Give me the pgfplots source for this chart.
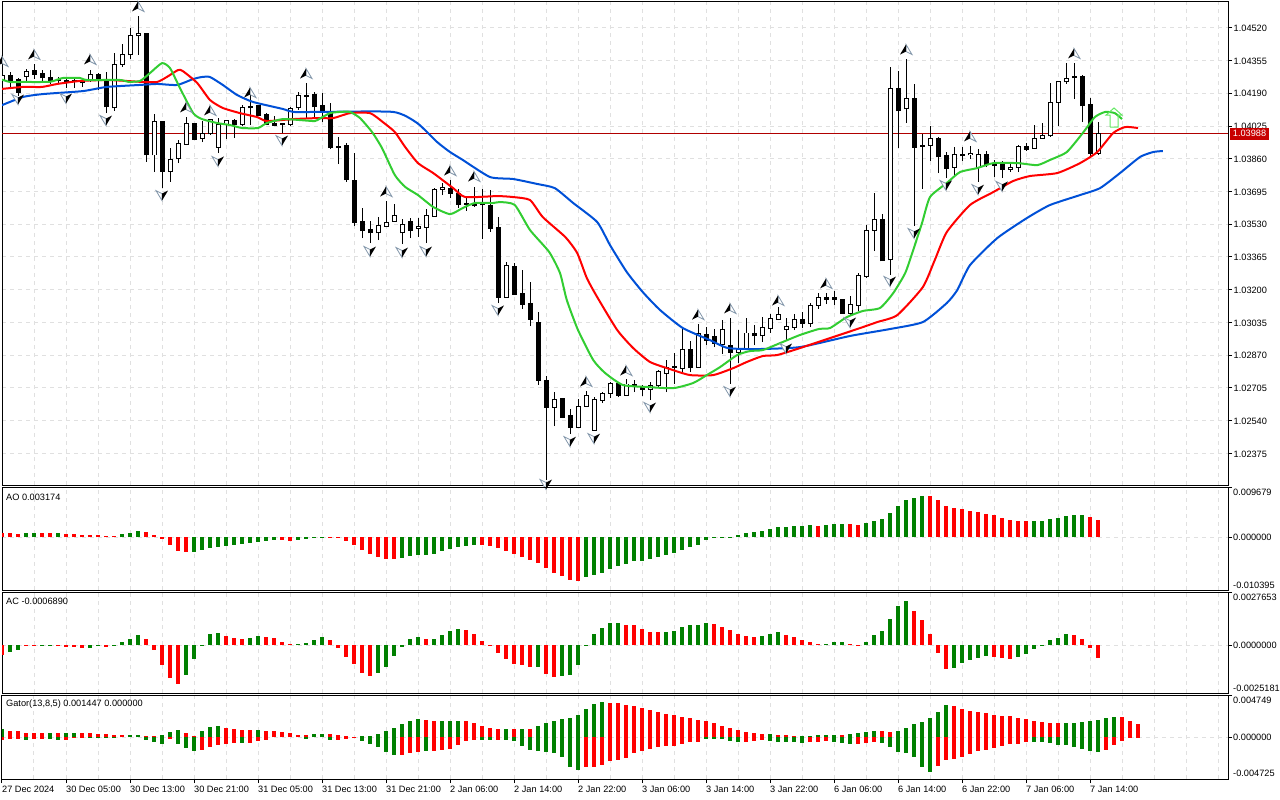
\documentclass[border=0pt]{standalone}
\usepackage{pgfplots}
\usepackage{pgfplotstable}
\pgfplotsset{compat=1.18}
\usepackage{fontspec}
\setmainfont{Liberation Sans}
\newcommand\lab{\fontsize{9.2}{11}\selectfont}
\definecolor{gLine}{RGB}{50,205,50}
\definecolor{bLine}{RGB}{0,80,215}
\definecolor{pLine}{RGB}{176,0,0}
\definecolor{pBox}{RGB}{200,0,0}
\definecolor{gBar}{RGB}{0,128,0}
\definecolor{rBar}{RGB}{255,0,0}
\definecolor{gridc}{RGB}{224,224,224}
\definecolor{fEdge}{RGB}{130,150,170}
\pgfdeclareplotmark{fup}{%
  \pgfsetlinewidth{0.8pt}\pgfsetstrokecolor{fEdge}\pgfsetfillcolor{white}%
  \pgfpathmoveto{\pgfqpoint{0pt}{5.5pt}}\pgfpathlineto{\pgfqpoint{6pt}{-4.5pt}}\pgfpathlineto{\pgfqpoint{0pt}{-1.5pt}}\pgfpathclose\pgfusepathqfillstroke
  \pgfsetfillcolor{black}%
  \pgfpathmoveto{\pgfqpoint{0pt}{5.5pt}}\pgfpathlineto{\pgfqpoint{-6pt}{-4.5pt}}\pgfpathlineto{\pgfqpoint{0pt}{-1.5pt}}\pgfpathclose\pgfusepathqfill
}
\pgfdeclareplotmark{fdown}{%
  \pgfsetlinewidth{0.8pt}\pgfsetstrokecolor{fEdge}\pgfsetfillcolor{white}%
  \pgfpathmoveto{\pgfqpoint{0pt}{-5.5pt}}\pgfpathlineto{\pgfqpoint{-6pt}{4.5pt}}\pgfpathlineto{\pgfqpoint{0pt}{1.5pt}}\pgfpathclose\pgfusepathqfillstroke
  \pgfsetfillcolor{black}%
  \pgfpathmoveto{\pgfqpoint{0pt}{-5.5pt}}\pgfpathlineto{\pgfqpoint{6pt}{4.5pt}}\pgfpathlineto{\pgfqpoint{0pt}{1.5pt}}\pgfpathclose\pgfusepathqfill
}
\pgfplotstableread{
k o h l c
0 1.04257 1.04297 1.04237 1.04282
3 1.04277 1.04312 1.04252 1.04302
11 1.04257 1.04307 1.04247 1.04287
14 1.04116 1.04393 1.04101 1.04337
15 1.04337 1.04438 1.04322 1.04383
16 1.04383 1.04519 1.04363 1.04479
17 1.04479 1.04579 1.04383 1.04489
19 1.03879 1.04085 1.03793 1.04050
21 1.03798 1.03914 1.03743 1.03854
22 1.03859 1.03954 1.03838 1.03939
23 1.03934 1.04070 1.03929 1.04040
25 1.03964 1.04050 1.03944 1.03985
26 1.03985 1.04060 1.03980 1.04060
27 1.03919 1.04065 1.03889 1.04035
28 1.04035 1.04055 1.03959 1.04055
30 1.04035 1.04131 1.04025 1.04116
36 1.04035 1.04121 1.04025 1.04111
37 1.04116 1.04196 1.04106 1.04181
47 1.03486 1.03566 1.03450 1.03526
48 1.03521 1.03647 1.03516 1.03541
49 1.03546 1.03632 1.03546 1.03576
50 1.03486 1.03556 1.03430 1.03531
52 1.03511 1.03561 1.03466 1.03521
53 1.03516 1.03607 1.03435 1.03576
54 1.03571 1.03712 1.03571 1.03707
55 1.03707 1.03738 1.03677 1.03717
63 1.03163 1.03340 1.03163 1.03324
69 1.02609 1.02684 1.02513 1.02649
72 1.02508 1.02649 1.02508 1.02614
73 1.02614 1.02689 1.02609 1.02669
74 1.02493 1.02659 1.02493 1.02649
75 1.02644 1.02684 1.02629 1.02679
76 1.02679 1.02735 1.02654 1.02730
78 1.02669 1.02750 1.02669 1.02725
81 1.02699 1.02735 1.02644 1.02715
82 1.02715 1.02795 1.02710 1.02790
83 1.02780 1.02846 1.02684 1.02810
85 1.02805 1.03002 1.02785 1.02901
87 1.02810 1.03027 1.02810 1.02977
90 1.02926 1.03047 1.02876 1.03002
92 1.02886 1.02997 1.02830 1.02901
93 1.02901 1.03057 1.02896 1.02982
95 1.02967 1.03062 1.02936 1.03012
96 1.03007 1.03077 1.02982 1.03057
97 1.03052 1.03113 1.03047 1.03077
98 1.03002 1.03057 1.02946 1.03017
99 1.03012 1.03077 1.02997 1.03052
101 1.03032 1.03133 1.03012 1.03123
102 1.03123 1.03183 1.03103 1.03163
106 1.03082 1.03168 1.03072 1.03128
107 1.03123 1.03284 1.03093 1.03274
108 1.03269 1.03526 1.03259 1.03501
109 1.03501 1.03687 1.03395 1.03556
111 1.03350 1.04322 1.03274 1.04216
113 1.04111 1.04363 1.04040 1.04166
116 1.03929 1.04025 1.03849 1.03964
119 1.03818 1.03919 1.03778 1.03884
121 1.03879 1.03924 1.03859 1.03889
122 1.03818 1.03909 1.03743 1.03884
126 1.03808 1.03844 1.03793 1.03818
127 1.03818 1.03929 1.03793 1.03924
129 1.03914 1.04030 1.03909 1.03964
130 1.03964 1.04040 1.03964 1.03975
131 1.03975 1.04242 1.03970 1.04146
132 1.04146 1.04247 1.04025 1.04247
133 1.04247 1.04342 1.04237 1.04267
137 1.03889 1.04045 1.03879 1.03988
}\upcandles
\pgfplotstableread{
k o h l c
1 1.04282 1.04297 1.04216 1.04252
2 1.04257 1.04267 1.04176 1.04196
4 1.04307 1.04337 1.04262 1.04287
5 1.04292 1.04307 1.04252 1.04267
6 1.04272 1.04307 1.04237 1.04252
7 1.04257 1.04272 1.04237 1.04252
8 1.04252 1.04267 1.04216 1.04242
9 1.04252 1.04262 1.04216 1.04247
10 1.04252 1.04257 1.04222 1.04242
12 1.04287 1.04292 1.04206 1.04262
13 1.04257 1.04297 1.04090 1.04121
18 1.04489 1.04489 1.03844 1.03879
20 1.04050 1.04050 1.03712 1.03798
24 1.04040 1.04040 1.03954 1.03959
29 1.04055 1.04060 1.03964 1.04035
31 1.04121 1.04191 1.04030 1.04116
32 1.04126 1.04131 1.04080 1.04080
33 1.04085 1.04090 1.04030 1.04035
34 1.04040 1.04075 1.04025 1.04030
35 1.04040 1.04040 1.03990 1.04035
38 1.04181 1.04242 1.04065 1.04176
39 1.04186 1.04196 1.04065 1.04121
40 1.04126 1.04191 1.04045 1.04096
41 1.04096 1.04141 1.03909 1.03919
42 1.03924 1.03970 1.03833 1.03919
43 1.03929 1.03939 1.03743 1.03753
44 1.03753 1.03889 1.03521 1.03541
45 1.03546 1.03612 1.03460 1.03496
46 1.03506 1.03546 1.03435 1.03486
51 1.03546 1.03561 1.03460 1.03501
56 1.03712 1.03753 1.03662 1.03687
57 1.03687 1.03707 1.03612 1.03632
58 1.03637 1.03662 1.03597 1.03632
59 1.03632 1.03717 1.03617 1.03622
60 1.03632 1.03707 1.03455 1.03627
61 1.03627 1.03702 1.03491 1.03511
62 1.03516 1.03566 1.03133 1.03163
64 1.03319 1.03334 1.03178 1.03178
65 1.03183 1.03299 1.03103 1.03128
66 1.03133 1.03239 1.03017 1.03052
67 1.03037 1.03088 1.02720 1.02745
68 1.02745 1.02765 1.02241 1.02609
70 1.02654 1.02654 1.02553 1.02558
71 1.02568 1.02599 1.02473 1.02508
77 1.02730 1.02735 1.02659 1.02669
79 1.02720 1.02745 1.02684 1.02715
80 1.02710 1.02720 1.02664 1.02699
84 1.02815 1.02881 1.02725 1.02810
86 1.02901 1.02941 1.02785 1.02810
88 1.02972 1.03012 1.02921 1.02946
89 1.02962 1.03002 1.02911 1.02931
91 1.02921 1.03057 1.02725 1.02886
94 1.02982 1.03022 1.02921 1.02967
100 1.03052 1.03088 1.03007 1.03032
103 1.03163 1.03183 1.03128 1.03153
104 1.03163 1.03193 1.03123 1.03153
105 1.03153 1.03153 1.03082 1.03082
110 1.03556 1.03581 1.03345 1.03345
112 1.04216 1.04302 1.03914 1.04101
114 1.04166 1.04237 1.03521 1.03919
115 1.03929 1.03985 1.03707 1.03924
117 1.03964 1.03970 1.03788 1.03869
118 1.03874 1.03894 1.03763 1.03813
120 1.03884 1.03919 1.03849 1.03874
123 1.03884 1.03899 1.03818 1.03833
124 1.03838 1.03854 1.03768 1.03828
125 1.03833 1.03849 1.03763 1.03808
128 1.03924 1.03939 1.03899 1.03909
134 1.04277 1.04342 1.04161 1.04267
135 1.04277 1.04282 1.04045 1.04126
136 1.04131 1.04166 1.03864 1.03889
}\downcandles
\newcommand\comb[2]{\addplot[ycomb, no markers, line width=4pt, color=#1] coordinates {#2};}
\pgfplotsset{
  base/.style={scale only axis, width=1226pt, xmin=0, xmax=153.25, anchor=north west,
    axis line style={black,line width=1pt}, clip=true,
    scaled y ticks=false,
    tick label style={font=\lab},
    xtick={0,8,...,136}, minor xtick={4,12,...,132,140,144,148,152},
    xmajorgrids, xminorgrids, ymajorgrids,
    major grid style={gridc,line width=1pt,dash pattern=on 4pt off 4pt},
    minor grid style={gridc,line width=1pt,dash pattern=on 4pt off 4pt},
    xtick pos=bottom, ytick pos=right, tick align=outside,
    major tick length=4pt, minor tick length=0pt,
    y tick style={black,line width=1pt},
    /pgf/number format/assume math mode=true},
  nox/.style={xticklabels={}, x tick style={draw=none}},
  sub/.style={base, nox, ytick={0}, yticklabels={},
    extra y tick labels={}, extra y tick style={grid=none}},
}
\begin{document}
\begin{tikzpicture}
\path[use as bounding box] (0pt,0pt) rectangle (1280pt,-800pt);
% ---------- main price panel ----------
\begin{axis}[base, nox, at={(2pt,-2pt)}, height=483pt, ymin=1.02216, ymax=1.04650,
  ytick={1.02375,1.02540,1.02705,1.02870,1.03035,1.03200,1.03365,1.03530,1.03695,1.03860,1.04025,1.04190,1.04355,1.04520},
  yticklabels={1.02375,1.02540,1.02705,1.02870,1.03035,1.03200,1.03365,1.03530,1.03695,1.03860,1.04025,1.04190,1.04355,1.04520},
  yticklabel style={anchor=west,inner sep=0pt,xshift=1.5pt,yshift=-0.5pt}]
% current price
\addplot[color=pLine,line width=1pt] coordinates {(0,1.03988)(153.25,1.03988)};
% wicks
\addplot[draw=none,mark=none,error bars/.cd,y dir=plus,y explicit,error mark=none,error bar style={line width=1pt,black}]
  table[x=k,y=l,y error plus expr=\thisrow{h}-\thisrow{l}] {\upcandles};
\addplot[draw=none,mark=none,error bars/.cd,y dir=plus,y explicit,error mark=none,error bar style={line width=1pt,black}]
  table[x=k,y=l,y error plus expr=\thisrow{h}-\thisrow{l}] {\downcandles};
% bodies
\addplot[draw=none,mark=none,error bars/.cd,y dir=plus,y explicit,error mark=none,error bar style={line width=5pt,black}]
  table[x=k,y expr=\thisrow{o}-0.000025,y error plus expr=\thisrow{c}-\thisrow{o}+0.00005] {\upcandles};
\addplot[draw=none,mark=none,error bars/.cd,y dir=plus,y explicit,error mark=none,error bar style={line width=5pt,black}]
  table[x=k,y expr=\thisrow{c}-0.000025,y error plus expr=\thisrow{o}-\thisrow{c}+0.00005] {\downcandles};
\addplot[draw=none,mark=none,error bars/.cd,y dir=plus,y explicit,error mark=none,error bar style={line width=3pt,white}]
  table[x=k,y expr=\thisrow{o}+0.000025,y error plus expr=\thisrow{c}-\thisrow{o}-0.00005] {\upcandles};
% fractals
\addplot[only marks,mark=fup] coordinates {(0,1.04348)(4,1.04383)(11,1.04358)(17,1.04625)(23,1.04116)(26,1.04101)(31,1.04191)(38,1.04287)(48,1.03692)(56,1.03798)(59,1.03768)(73,1.02735)(78,1.02790)(87,1.03072)(91,1.03103)(97,1.03143)(103,1.03229)(113,1.04408)(121,1.03970)(134,1.04388)};
\addplot[only marks,mark=fdown] coordinates {(2,1.04161)(8,1.04166)(13,1.04055)(20,1.03677)(27,1.03849)(35,1.03954)(46,1.03395)(50,1.03390)(53,1.03395)(62,1.03098)(68,1.02221)(71,1.02437)(74,1.02452)(81,1.02609)(91,1.02689)(98,1.02906)(106,1.03037)(111,1.03244)(114,1.03486)(118,1.03728)(122,1.03707)(125,1.03723)};
% blue
\addplot[color=bLine,line width=2pt,no markers,smooth,tension=0.35] coordinates {(-0.25,1.04126)(2.6,1.04171)(5.1,1.04186)(10.1,1.04201)(13.1,1.04222)(17.25,1.04232)(19.4,1.04237)(21.9,1.04232)(23.9,1.04262)(25,1.04272)(26,1.04272)(27.6,1.04232)(29.4,1.04181)(31.4,1.04146)(35.1,1.04111)(36.4,1.04096)(39.75,1.04096)(48.9,1.04096)(51.9,1.04040)(54.4,1.03944)(56,1.03894)(57.6,1.03854)(61,1.03768)(63.9,1.03758)(66.9,1.03733)(69.1,1.03712)(71.4,1.03637)(74.4,1.03541)(76,1.03425)(78.1,1.03289)(80.1,1.03188)(82.25,1.03098)(85.1,1.03007)(88.5,1.02946)(90.75,1.02906)(94.4,1.02901)(99.75,1.02911)(106,1.02967)(111,1.03002)(115.1,1.03037)(118.1,1.03133)(119.4,1.03198)(121,1.03324)(124.4,1.03460)(128.1,1.03561)(131,1.03627)(134.75,1.03677)(137.25,1.03712)(139.75,1.03788)(142.25,1.03869)(143.9,1.03894)(145.1,1.03899)};
% red
\addplot[color=rBar,line width=2pt,no markers,smooth,tension=0.35] coordinates {(-0.25,1.04211)(2.6,1.04222)(5,1.04222)(6.9,1.04237)(9.75,1.04252)(13.1,1.04257)(15.6,1.04252)(17.6,1.04247)(19.4,1.04247)(20.6,1.04272)(22,1.04307)(22.6,1.04302)(24.4,1.04242)(26,1.04156)(27.6,1.04116)(29.75,1.04090)(31.9,1.04070)(33.1,1.04050)(36.4,1.04060)(39.4,1.04065)(41.4,1.04065)(43.5,1.04090)(46,1.04090)(47.6,1.04045)(49.1,1.03995)(50.4,1.03919)(52,1.03838)(53.9,1.03788)(56.4,1.03712)(57.9,1.03667)(61.9,1.03672)(63.9,1.03667)(66,1.03652)(67.6,1.03566)(70.4,1.03466)(71.9,1.03385)(73.1,1.03259)(74.4,1.03163)(76.9,1.02997)(78.9,1.02906)(81,1.02836)(83.5,1.02800)(86,1.02770)(88.9,1.02770)(91.4,1.02805)(93.1,1.02836)(95.1,1.02866)(96.9,1.02871)(99.75,1.02906)(106.9,1.03002)(109.4,1.03037)(111.9,1.03072)(115.1,1.03213)(116.6,1.03350)(118.1,1.03491)(121,1.03627)(123.9,1.03692)(126.4,1.03748)(128.5,1.03773)(131.9,1.03788)(134.75,1.03838)(136.9,1.03894)(138.9,1.03990)(140.4,1.04020)(142,1.04015)};
% green
\addplot[color=gLine,line width=2pt,no markers,smooth,tension=0.35] coordinates {(-0.25,1.04262)(1,1.04247)(2.6,1.04247)(6,1.04248)(7.6,1.04267)(9.75,1.04267)(10.6,1.04257)(14.75,1.04257)(15.75,1.04248)(17.25,1.04252)(18.5,1.04292)(20,1.04342)(21,1.04317)(22.25,1.04216)(23.9,1.04090)(25,1.04060)(26.9,1.04040)(28.5,1.04030)(30,1.04015)(32,1.04015)(33.1,1.04040)(35.1,1.04060)(37.25,1.04055)(39.1,1.04050)(39.75,1.04063)(41,1.04090)(42.25,1.04096)(43.5,1.04096)(44.75,1.04065)(46.25,1.03995)(47.5,1.03914)(49.1,1.03778)(50.4,1.03718)(52,1.03677)(53.9,1.03617)(56,1.03581)(57.6,1.03612)(59.1,1.03637)(61.4,1.03637)(62.25,1.03642)(64.1,1.03627)(66,1.03501)(68.4,1.03390)(69.75,1.03284)(70.6,1.03148)(72,1.02997)(73.9,1.02846)(75.4,1.02780)(77.6,1.02720)(80.6,1.02710)(83.9,1.02704)(86.4,1.02730)(88.1,1.02770)(89.75,1.02810)(91.9,1.02871)(93.5,1.02891)(95.1,1.02896)(97.25,1.02931)(99.75,1.02972)(102.1,1.03002)(103.5,1.03007)(105.6,1.03062)(107.6,1.03093)(109.75,1.03108)(111.4,1.03183)(112.9,1.03284)(113.9,1.03400)(115,1.03536)(116,1.03667)(118.1,1.03738)(119.75,1.03793)(121.9,1.03813)(123.9,1.03838)(127,1.03838)(129.4,1.03828)(131,1.03854)(133.1,1.03894)(135.1,1.03990)(136.6,1.04070)(137.9,1.04096)(139.1,1.04090)(140,1.04060)};
% arrow object
\addplot[color=green!35!gLine!70!white,line width=1pt] coordinates {(138.5,1.04020)(138.5,1.04080)(138,1.04080)(139,1.04116)(140,1.04080)(139.5,1.04080)(139.5,1.04020)(138.5,1.04020)};
\end{axis}
% ---------- AO ----------
\begin{axis}[sub, at={(2pt,-487pt)}, height=103pt, ymin=-0.01033, ymax=0.00986, extra y ticks={-0.010395,0.009679}]
\comb{rBar}{(0,0.000914)(1,0.000914)(2,0.000653)(5,0.000849)(6,0.000849)(8,0.000653)(9,0.000588)(10,0.000457)(11,0.000392)(12,0.000392)(13,0.000196)(14,0.000196)(18,0.001045)(19,0.000457)(20,-0.000327)(21,-0.001437)(22,-0.002612)(23,-0.002873)(35,-0.000457)(36,-0.000653)(41,0.000065)(42,0.000065)(43,-0.000653)(44,-0.001437)(45,-0.002416)(46,-0.003265)(47,-0.003853)(48,-0.004245)(49,-0.004245)(60,-0.001502)(61,-0.001763)(62,-0.002155)(63,-0.002677)(64,-0.003330)(65,-0.003918)(66,-0.004440)(67,-0.005028)(68,-0.006073)(69,-0.006987)(70,-0.007575)(71,-0.008358)(72,-0.008554)(102,0.002220)(106,0.002547)(107,0.002351)(116,0.008032)(117,0.007248)(118,0.006073)(119,0.005681)(120,0.005485)(121,0.005093)(122,0.004898)(123,0.004506)(124,0.004310)(125,0.003722)(126,0.003330)(127,0.003134)(128,0.003134)(136,0.003918)(137,0.003330)}
\comb{gBar}{(3,0.000849)(4,0.000849)(7,0.000849)(15,0.000588)(16,0.000849)(17,0.001241)(24,-0.002873)(25,-0.002481)(26,-0.002090)(27,-0.001894)(28,-0.001698)(29,-0.001567)(30,-0.001306)(31,-0.001175)(32,-0.000914)(33,-0.000718)(34,-0.000522)(37,-0.000457)(38,-0.000261)(39,-0.000131)(40,0.000131)(50,-0.004049)(51,-0.003657)(52,-0.003526)(53,-0.003396)(54,-0.003265)(55,-0.002743)(56,-0.002286)(57,-0.001894)(58,-0.001698)(59,-0.001567)(73,-0.007771)(74,-0.007379)(75,-0.006987)(76,-0.006204)(77,-0.005616)(78,-0.005224)(79,-0.004636)(80,-0.004571)(81,-0.004245)(82,-0.003853)(83,-0.003461)(84,-0.003069)(85,-0.002481)(86,-0.001894)(87,-0.001437)(88,-0.000522)(89,-0.000196)(90,-0.000065)(91,0.000131)(92,0.000457)(93,0.000849)(94,0.000980)(95,0.001175)(96,0.001633)(97,0.002024)(98,0.002024)(99,0.002220)(100,0.002220)(101,0.002416)(103,0.002351)(104,0.002547)(105,0.002547)(108,0.002808)(109,0.003200)(110,0.003592)(111,0.004702)(112,0.006073)(113,0.007248)(114,0.007640)(115,0.008032)(129,0.003134)(130,0.003134)(131,0.003526)(132,0.003722)(133,0.004114)(134,0.004310)(135,0.004310)}
\end{axis}
% ---------- AC ----------
\begin{axis}[sub, at={(2pt,-592pt)}, height=101pt, ymin=-0.002514, ymax=0.002809, extra y ticks={-0.0025181,0.0027653}]
\comb{rBar}{(0,-0.000492)(3,0.000018)(4,0.000035)(7,0.000018)(8,-0.000088)(9,-0.000105)(10,-0.000123)(13,-0.000070)(18,0.000334)(19,-0.000246)(20,-0.001037)(21,-0.001722)(22,-0.002038)(28,0.000492)(29,0.000387)(30,0.000334)(33,0.000439)(34,0.000387)(35,0.000176)(36,0.000053)(41,0.000281)(42,-0.000123)(43,-0.000615)(44,-0.000984)(45,-0.001458)(46,-0.001616)(53,0.000334)(58,0.000808)(59,0.000597)(60,0.000228)(61,-0.000018)(62,-0.000387)(63,-0.000720)(64,-0.000984)(65,-0.001037)(66,-0.001142)(68,-0.001511)(69,-0.001669)(78,0.001072)(79,0.001072)(80,0.000861)(81,0.000703)(82,0.000703)(89,0.001124)(90,0.000966)(91,0.000808)(92,0.000597)(93,0.000492)(94,0.000439)(98,0.000545)(99,0.000439)(100,0.000281)(101,0.000176)(102,0.000053)(106,0.000053)(107,-0.000035)(114,0.001810)(115,0.001335)(116,0.000597)(117,-0.000387)(118,-0.001247)(124,-0.000615)(125,-0.000668)(126,-0.000720)(134,0.000545)(135,0.000334)(136,-0.000123)(137,-0.000668)}
\comb{gBar}{(1,-0.000334)(2,-0.000246)(5,0.000035)(6,0.000035)(11,-0.000123)(12,-0.000053)(14,-0.000035)(15,0.000158)(16,0.000334)(17,0.000545)(23,-0.001564)(24,-0.000720)(25,-0.000018)(26,0.000597)(27,0.000650)(31,0.000387)(32,0.000492)(37,0.000053)(38,0.000123)(39,0.000281)(40,0.000439)(47,-0.001458)(48,-0.001142)(49,-0.000562)(50,-0.000088)(51,0.000334)(52,0.000439)(54,0.000334)(55,0.000545)(56,0.000756)(57,0.000861)(67,-0.001142)(70,-0.001616)(71,-0.001564)(72,-0.001037)(73,0.000035)(74,0.000597)(75,0.000914)(76,0.001177)(77,0.001177)(83,0.000703)(84,0.000756)(85,0.000966)(86,0.001072)(87,0.001072)(88,0.001177)(95,0.000492)(96,0.000597)(97,0.000703)(103,0.000070)(104,0.000176)(105,0.000176)(108,0.000176)(109,0.000545)(110,0.000756)(111,0.001388)(112,0.002073)(113,0.002337)(119,-0.001195)(120,-0.000931)(121,-0.000773)(122,-0.000668)(123,-0.000562)(127,-0.000615)(128,-0.000457)(129,-0.000193)(130,-0.000035)(131,0.000281)(132,0.000387)(133,0.000597)}
\end{axis}
% ---------- Gator ----------
\begin{axis}[base, at={(2pt,-695pt)}, height=84pt, ymin=-0.00468, ymax=0.00475,
  ytick={0}, yticklabels={}, extra y ticks={-0.004725,0.004749}, extra y tick labels={}, extra y tick style={grid=none},
  minor x tick style={draw=none},
  x tick style={black,line width=1pt},
  xticklabels={27 Dec 2024,30 Dec 05:00,30 Dec 13:00,30 Dec 21:00,31 Dec 05:00,31 Dec 13:00,31 Dec 21:00,2 Jan 06:00,2 Jan 14:00,2 Jan 22:00,3 Jan 06:00,3 Jan 14:00,3 Jan 22:00,6 Jan 06:00,6 Jan 14:00,6 Jan 22:00,7 Jan 06:00,7 Jan 14:00},
  xticklabel style={anchor=north west,inner sep=0pt,xshift=0pt,yshift=-3pt}]
\comb{rBar}{(1,0.000748)(2,0.000748)(3,0.000524)(4,0.000524)(5,0.000524)(7,0.000524)(10,0.000524)(11,0.000524)(12,0.000411)(13,0.000374)(14,0.000299)(15,0.000299)(18,0.000150)(19,0.000150)(23,0.000486)(24,0.000112)(28,0.001047)(29,0.000972)(30,0.000860)(31,0.000860)(33,0.000748)(34,0.000748)(35,0.000636)(36,0.000524)(37,0.000299)(38,0.000299)(41,0.000411)(42,0.000299)(43,0.000112)(44,0.000075)(53,0.001945)(54,0.001833)(58,0.001833)(59,0.001608)(60,0.001272)(61,0.001047)(62,0.000935)(64,0.000935)(66,0.000935)(76,0.003852)(77,0.003852)(78,0.003628)(79,0.003516)(80,0.003291)(81,0.003067)(82,0.002842)(83,0.002618)(84,0.002506)(85,0.002281)(86,0.002169)(87,0.001945)(88,0.001833)(89,0.001608)(90,0.001272)(91,0.001047)(92,0.000823)(93,0.000598)(94,0.000486)(95,0.000374)(97,0.000299)(98,0.000224)(99,0.000150)(105,0.000262)(110,0.000711)(111,0.000598)(119,0.003516)(120,0.003179)(121,0.002955)(122,0.002842)(123,0.002730)(124,0.002506)(125,0.002394)(126,0.002394)(127,0.002169)(128,0.002057)(129,0.001833)(130,0.001720)(131,0.001608)(132,0.001608)(140,0.002281)(141,0.001833)(142,0.001496)}
\comb{gBar}{(0,0.000935)(6,0.000524)(8,0.000524)(9,0.000524)(16,0.000299)(17,0.000224)(20,0.000262)(21,0.000636)(22,0.000860)(25,0.000711)(26,0.001159)(27,0.001309)(32,0.000860)(39,0.000411)(40,0.000411)(45,0.000112)(46,0.000187)(47,0.000411)(48,0.000748)(49,0.001085)(50,0.001496)(51,0.001833)(52,0.002057)(55,0.001833)(56,0.001833)(57,0.001833)(63,0.000935)(65,0.000935)(67,0.001272)(68,0.001608)(69,0.001833)(70,0.002057)(71,0.002169)(72,0.002506)(73,0.003179)(74,0.003740)(75,0.003964)(96,0.000374)(100,0.000112)(101,0.000112)(102,0.000262)(103,0.000262)(104,0.000262)(106,0.000374)(107,0.000486)(108,0.000598)(109,0.000711)(112,0.000711)(113,0.001047)(114,0.001496)(115,0.001720)(116,0.002169)(117,0.002842)(118,0.003628)(133,0.001608)(134,0.001608)(135,0.001720)(136,0.001833)(137,0.001945)(138,0.002169)(139,0.002281)}
\comb{rBar}{(0,-0.000299)(1,-0.000224)(2,-0.000187)(4,-0.000187)(5,-0.000187)(8,-0.000299)(9,-0.000112)(10,-0.000112)(21,-0.000187)(25,-0.001421)(26,-0.001047)(27,-0.000823)(28,-0.000748)(29,-0.000636)(31,-0.000636)(32,-0.000411)(33,-0.000299)(42,-0.000299)(43,-0.000187)(44,-0.000037)(50,-0.001945)(51,-0.001758)(52,-0.001646)(54,-0.001533)(55,-0.001421)(56,-0.001309)(57,-0.000823)(58,-0.000374)(59,-0.000299)(62,-0.000299)(73,-0.003329)(74,-0.003329)(75,-0.003104)(76,-0.002655)(77,-0.002543)(78,-0.002319)(79,-0.001758)(80,-0.001533)(81,-0.001309)(82,-0.001085)(83,-0.000972)(84,-0.000972)(85,-0.000748)(86,-0.000524)(87,-0.000524)(93,-0.000524)(94,-0.000411)(95,-0.000299)(101,-0.000486)(102,-0.000486)(103,-0.000411)(107,-0.000711)(108,-0.000598)(109,-0.000524)(117,-0.003216)(118,-0.002543)(119,-0.002431)(120,-0.002207)(121,-0.001870)(122,-0.001533)(123,-0.001421)(124,-0.001197)(125,-0.000972)(126,-0.000748)(127,-0.000748)(128,-0.000524)(138,-0.001421)(139,-0.000860)(140,-0.000411)(141,-0.000075)(142,-0.000037)}
\comb{gBar}{(3,-0.000262)(6,-0.000187)(7,-0.000262)(11,-0.000075)(12,-0.000075)(13,-0.000112)(14,-0.000037)(18,-0.000299)(19,-0.000524)(20,-0.000748)(22,-0.000748)(23,-0.001197)(24,-0.001533)(30,-0.000636)(38,-0.000150)(41,-0.000299)(45,-0.000411)(46,-0.000748)(47,-0.001085)(48,-0.001646)(49,-0.001982)(53,-0.001533)(60,-0.000299)(61,-0.000299)(63,-0.000299)(64,-0.000374)(65,-0.000935)(66,-0.001421)(67,-0.001533)(68,-0.001646)(69,-0.001758)(70,-0.002207)(71,-0.003329)(72,-0.003665)(88,-0.000224)(89,-0.000150)(90,-0.000150)(91,-0.000374)(92,-0.000524)(96,-0.000411)(97,-0.000524)(98,-0.000524)(99,-0.000524)(100,-0.000598)(104,-0.000524)(105,-0.000636)(106,-0.000748)(110,-0.000636)(111,-0.001085)(112,-0.001646)(113,-0.001758)(114,-0.002207)(115,-0.003329)(116,-0.003890)(129,-0.000524)(130,-0.000524)(131,-0.000636)(132,-0.000860)(133,-0.000860)(134,-0.001085)(135,-0.001309)(136,-0.001533)(137,-0.001646)}
\end{axis}
% ---------- labels ----------
\fill[pBox] (1230pt,-128pt) rectangle (1269pt,-139.5pt);
\node[font=\lab,text=white,inner sep=0pt] at (1249.5pt,-133.8pt) {1.03988};
\foreach \yy/\tt in {492/0.009679,537/0.000000,585/-0.010395,597/0.0027653,645/0.0000000,688/-0.0025181,700/0.004749,737/0.000000,773/-0.004725}{
  \node[font=\lab,anchor=west,inner sep=0pt] at (1233pt,-\yy pt) {\tt};
}
\node[font=\lab,anchor=west,inner sep=0pt] at (6pt,-497pt) {AO 0.003174};
\node[font=\lab,anchor=west,inner sep=0pt] at (6pt,-601pt) {AC -0.0006890};
\node[font=\lab,anchor=west,inner sep=0pt] at (6pt,-704pt) {Gator(13,8,5) 0.001447 0.000000};
\end{tikzpicture}
\end{document}
